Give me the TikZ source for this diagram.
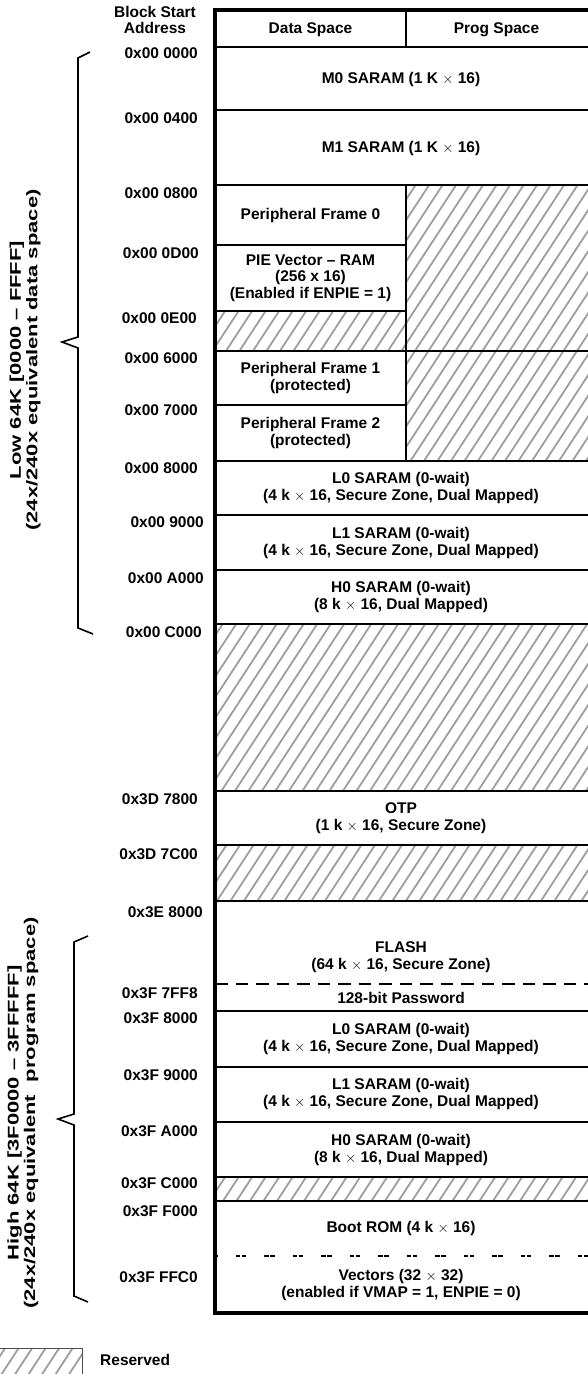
\documentclass[tikz,border=0pt]{standalone}
\usepackage{fontspec}
\usepackage{graphicx}
\setmainfont{Liberation Sans}
\newcommand\cellfont{\fontsize{15.5}{16.5}\selectfont\bfseries}
\newcommand\tms{\ensuremath{\times}}
\newcommand\stretchtxt[1]{\scalebox{1.42}[1]{#1}}
\begin{document}
\begin{tikzpicture}[x=1pt,y=-1pt,
  cell/.style={font=\cellfont, align=center, inner sep=0pt},
  addr/.style={font=\cellfont, anchor=east, inner sep=0pt},
  thin line/.style={line width=1.4pt, black},
  thick border/.style={line width=3.5pt, black},
  hatchline/.style={line width=1.8pt, color=black!38},
  longdash/.style={line width=1.4pt, dash pattern=on 12.5pt off 8pt},
  shortdash/.style={line width=1.3pt, dash pattern=on 4.5pt off 1.5pt on 4.5pt off 18pt, dash phase=8pt},
  bracestyle/.style={line width=1.6pt, black}
]
\useasboundingbox (0,0) rectangle (587,1374);

% hatched (reserved) areas
\begin{scope}
  \clip (215,311) rectangle (406,351)
        (406,185) rectangle (590,461)
        (215,624) rectangle (590,791)
        (215,845) rectangle (590,901)
        (215,1177) rectangle (590,1201)
        (0,1348) rectangle (82,1380);
  \foreach \c in {0,13.5,...,2300} \draw[hatchline] (\c,-5) -- (\c-910,1385);
\end{scope}

% legend box border
\draw[line width=1pt, black!70] (-2,1348) rectangle (82,1380);

% horizontal full-width lines
\foreach \yy in {47,110,185,351,461,515,570,624,791,845,901,1011,1067,1122,1177,1201}
  \draw[thin line] (215,\yy) -- (590,\yy);
% data-column-only lines
\foreach \yy in {245,311,405}
  \draw[thin line] (215,\yy) -- (406,\yy);
% divider between data and program space
\draw[thin line] (406,10) -- (406,47);
\draw[thin line] (406,185) -- (406,461);
% dashed lines
\draw[longdash] (215,984) -- (590,984);
\draw[shortdash] (215,1256) -- (590,1256);

% outer border
\draw[thick border] (592,10) -- (215,10) -- (215,1313) -- (592,1313);

% header
\node[cell] (hdr) at (155,20) {Block Start\\Address};
\node[cell] (dsp) at (310.5,30) {Data Space};
\node[cell] (psp) at (496.5,30) {Prog Space};

% cells
\node[cell] (m0) at (401,79) {M0 SARAM (1 K \tms{} 16)};
\node[cell] (m1) at (401,148) {M1 SARAM (1 K \tms{} 16)};
\node[cell] (pf0) at (310.5,215) {Peripheral Frame 0};
\node[cell] (pie) at (310.5,278) {PIE Vector – RAM\\(256 x 16)\\(Enabled if ENPIE = 1)};
\node[cell] (pf1) at (310.5,378) {Peripheral Frame 1\\(protected)};
\node[cell] (pf2) at (310.5,433) {Peripheral Frame 2\\(protected)};
\node[cell] (l0a) at (401,488) {L0 SARAM (0-wait)\\(4 k \tms{} 16, Secure Zone, Dual Mapped)};
\node[cell] (l1a) at (401,543) {L1 SARAM (0-wait)\\(4 k \tms{} 16, Secure Zone, Dual Mapped)};
\node[cell] (h0a) at (401,597) {H0 SARAM (0-wait)\\(8 k \tms{} 16, Dual Mapped)};
\node[cell] (otp) at (401,818) {OTP\\(1 k \tms{} 16, Secure Zone)};
\node[cell] (flash) at (401,957) {FLASH\\(64 k \tms{} 16, Secure Zone)};
\node[cell] (pwd) at (401,998) {128-bit Password};
\node[cell] (l0b) at (401,1039) {L0 SARAM (0-wait)\\(4 k \tms{} 16, Secure Zone, Dual Mapped)};
\node[cell] (l1b) at (401,1094) {L1 SARAM (0-wait)\\(4 k \tms{} 16, Secure Zone, Dual Mapped)};
\node[cell] (h0b) at (401,1150) {H0 SARAM (0-wait)\\(8 k \tms{} 16, Dual Mapped)};
\node[cell] (boot) at (401,1228) {Boot ROM (4 k \tms{} 16)};
\node[cell] (vec) at (401,1285) {Vectors (32 \tms{} 32)\\(enabled if VMAP = 1, ENPIE = 0)};

% addresses
\node[addr] (a1) at (198,53) {0x00 0000};
\node[addr] (a2) at (198,118) {0x00 0400};
\node[addr] (a3) at (198,193) {0x00 0800};
\node[addr] (a4) at (199,253) {0x00 0D00};
\node[addr] (a5) at (197,318) {0x00 0E00};
\node[addr] (a6) at (198,358) {0x00 6000};
\node[addr] (a7) at (198,410) {0x00 7000};
\node[addr] (a8) at (198,468) {0x00 8000};
\node[addr] (a9) at (204,522) {0x00 9000};
\node[addr] (a10) at (204,578) {0x00 A000};
\node[addr] (a11) at (202,632) {0x00 C000};
\node[addr] (a12) at (198,799) {0x3D 7800};
\node[addr] (a13) at (198,854) {0x3D 7C00};
\node[addr] (a14) at (203,912) {0x3E 8000};
\node[addr] (a15) at (198,993) {0x3F 7FF8};
\node[addr] (a16) at (198,1018) {0x3F 8000};
\node[addr] (a17) at (198,1075) {0x3F 9000};
\node[addr] (a18) at (198,1131) {0x3F A000};
\node[addr] (a19) at (198,1183) {0x3F C000};
\node[addr] (a20) at (198,1211) {0x3F F000};
\node[addr] (a21) at (198,1277) {0x3F FFC0};

% braces
\draw[bracestyle] (90,52) -- (78,58) -- (78,337) -- (62,342) -- (78,348) -- (78,628) -- (93,634);
\draw[bracestyle] (88,936) -- (74,942) -- (74,1114) -- (58,1119) -- (74,1125) -- (74,1296) -- (88,1302);

% brace labels
\node[cell, rotate=90] (lowlbl) at (25,360) {\stretchtxt{Low 64K [0000 – FFFF]}\\\stretchtxt{(24x/240x equivalent data space)}};
\node[cell, rotate=90] (highlbl) at (23,1113) {\stretchtxt{High 64K [3F0000 – 3FFFFF]}\\\stretchtxt{(24x/240x equivalent\ \ program space)}};

% legend
\node[cell, anchor=west] (legtxt) at (100,1360) {Reserved};
\end{tikzpicture}
\end{document}
